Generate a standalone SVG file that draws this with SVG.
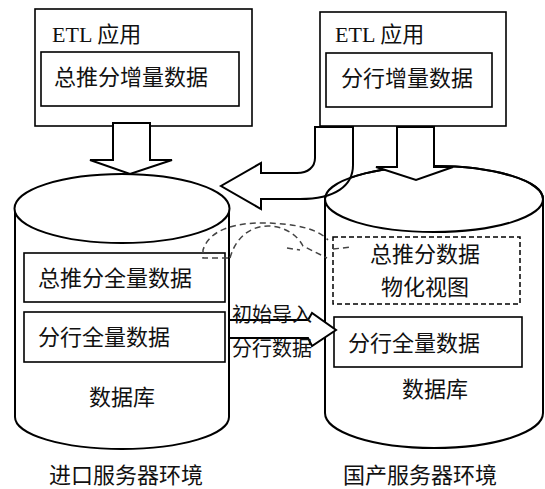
<svg xmlns="http://www.w3.org/2000/svg" width="545" height="489" viewBox="0 0 545 489">
<style>
.box{fill:#fff;stroke:#000;stroke-width:1.6}
.cyl{fill:#fff;stroke:#000;stroke-width:2}
.top{fill:none;stroke:#000;stroke-width:2}
.arr{fill:#fff;stroke:#000;stroke-width:2;stroke-linejoin:miter}
.dash{fill:none;stroke:#444;stroke-width:1.5;stroke-dasharray:6,4}
.dbox{fill:none;stroke:#000;stroke-width:1.5;stroke-dasharray:5,3}
text{font-family:"Noto Sans CJK SC","Noto Sans",sans-serif;font-size:22px;fill:#111}
.etl{font-family:"Liberation Serif",serif}
.sm{font-size:20px}
.mid{text-anchor:middle}
</style>
<rect width="545" height="489" fill="#fff"/>
<g id="etl-left">
<rect class="box" x="35" y="9" width="217" height="117"/>
<text x="52" y="42"><tspan class="etl">ETL</tspan> 应用</text>
<rect class="box" x="41" y="52" width="198" height="54"/>
<text x="54" y="85">总推分增量数据</text>
</g>
<g id="etl-right">
<rect class="box" x="320" y="12" width="186" height="114"/>
<text x="335" y="42"><tspan class="etl">ETL</tspan> 应用</text>
<rect class="box" x="326" y="53" width="166" height="54"/>
<text x="341" y="86">分行增量数据</text>
</g>
<g id="db-left">
<path class="cyl" d="M15,208 L15,417 A107,32 0 0 0 229,417 L229,208 Z"/>
<ellipse class="cyl" cx="122" cy="208.5" rx="107.5" ry="34.5"/>
<rect class="box" x="24" y="253" width="201" height="49"/>
<text x="38" y="286">总推分全量数据</text>
<rect class="box" x="24" y="312" width="201" height="50"/>
<text x="38" y="345">分行全量数据</text>
<text class="mid" x="122" y="405">数据库</text>
</g>
<g id="db-right">
<path class="cyl" d="M325,199 L325,413 A109,35 0 0 0 543,413 L543,199 Z"/>
<ellipse class="cyl" cx="434" cy="199" rx="109" ry="33"/>
<rect class="dbox" x="333" y="237" width="187" height="67"/>
<text class="mid" x="425" y="262">总推分数据</text>
<text class="mid" x="425" y="295">物化视图</text>
<rect class="box" x="334" y="317" width="188" height="50"/>
<text x="348" y="351">分行全量数据</text>
<text class="mid" x="435" y="397">数据库</text>
</g>
<g id="connectors">
<path class="arr" d="M113,123 L150,123 L150,160 L172,160 L130,174 L90,160 L113,160 Z"/>
<path class="arr" d="M315,127 L353,127 L353,165 C353,186 335,199 300,199 L261,199 L261,209 L221,186 L261,163 L261,173 L297,173 C308,173 315,167 315,158 Z"/>
<path class="top" d="M325,199 A109,33 0 0 1 543,199"/>
<path class="arr" d="M397,127 L434,127 L434,167 L453,167 L416,180 L376,167 L397,167 Z"/>
<path class="arr" d="M229,320 L308,320 L312,313 L336,330 L312,346 L308,338 L229,338 Z"/>
<path class="dash" d="M228,258 L203,258 L203,250 C210,228 238,223 262,223 C295,223 318,229 328,240"/>
<path class="dash" d="M230,258 C236,236 252,226 268,226 C285,226 298,236 303,246 L327,258"/>
<path class="dash" d="M287,248 L300,250"/>
<path class="dash" d="M333,249 L352,247"/>
</g>
<text class="sm" x="232" y="322">初始导入</text>
<text class="sm" x="232" y="356">分行数据</text>
<text class="mid" x="126" y="483">进口服务器环境</text>
<text class="mid" x="420" y="483">国产服务器环境</text>
</svg>
